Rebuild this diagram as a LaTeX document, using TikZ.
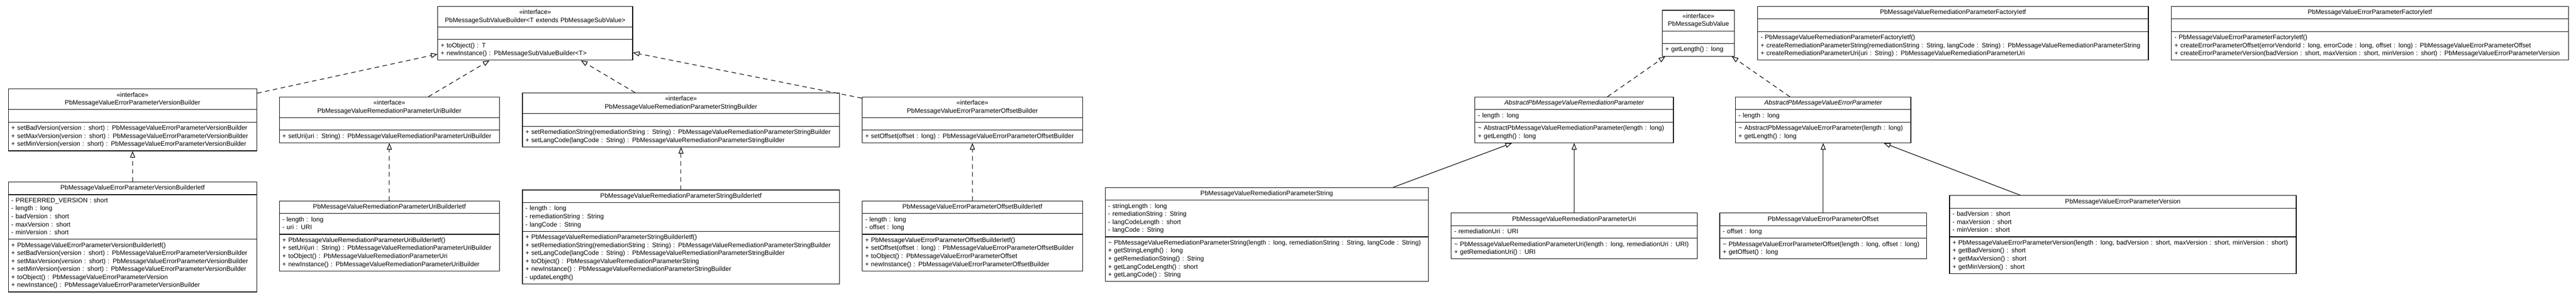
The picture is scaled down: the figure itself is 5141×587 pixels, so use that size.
\documentclass[tikz,border=0pt]{standalone}
\usepackage{fontspec}
\setmainfont{Liberation Sans}
\usetikzlibrary{arrows.meta,positioning,shapes.multipart}

\begin{document}
\begin{tikzpicture}[x=1pt,y=1pt,>={Triangle[open,width=10pt,length=13pt]},line width=1.2pt,
  cls/.style={rectangle split,rectangle split parts=3,draw,anchor=north west,
    inner xsep=6pt,inner ysep=4pt,text width=#1,
    font=\fontsize{12.8}{16}\selectfont},
  real/.style={->,dash pattern=on 9pt off 7pt}]
  \useasboundingbox (0,0) rectangle (5141,-587);

  \node[cls=484pt] (vb) at (16,-177)
    {\centering\strut «interface»\\PbMessageValueErrorParameterVersionBuilder\strut\par
     \nodepart{second}\strut
     \nodepart{third}\strut + setBadVersion(version : short) : PbMessageValueErrorParameterVersionBuilder\\
     + setMaxVersion(version : short) : PbMessageValueErrorParameterVersionBuilder\\
     + setMinVersion(version : short) : PbMessageValueErrorParameterVersionBuilder\strut};
  \node[cls=484pt] (vbi) [below=61pt of vb]
    {\centering\strut PbMessageValueErrorParameterVersionBuilderIetf\strut\par
     \nodepart{second}\strut - PREFERRED\_VERSION : short\\- length : long\\- badVersion : short\\
     - maxVersion : short\\- minVersion : short\strut
     \nodepart{third}\strut + PbMessageValueErrorParameterVersionBuilderIetf()\\
     + setBadVersion(version : short) : PbMessageValueErrorParameterVersionBuilder\\
     + setMaxVersion(version : short) : PbMessageValueErrorParameterVersionBuilder\\
     + setMinVersion(version : short) : PbMessageValueErrorParameterVersionBuilder\\
     + toObject() : PbMessageValueErrorParameterVersion\\
     + newInstance() : PbMessageValueErrorParameterVersionBuilder\strut};

  \node[cls=377pt] (svb) at (873,-12)
    {\centering\strut «interface»\\PbMessageSubValueBuilder<T extends PbMessageSubValue>\strut\par
     \nodepart{second}\strut
     \nodepart{third}\strut + toObject() : T\\+ newInstance() : PbMessageSubValueBuilder<T>\strut};

  \node[cls=427pt] (ub) at (557,-193)
    {\centering\strut «interface»\\PbMessageValueRemediationParameterUriBuilder\strut\par
     \nodepart{second}\strut
     \nodepart{third}\strut + setUri(uri : String) : PbMessageValueRemediationParameterUriBuilder\strut};
  \node[cls=427pt] (ubi) [below=115pt of ub]
    {\centering\strut PbMessageValueRemediationParameterUriBuilderIetf\strut\par
     \nodepart{second}\strut - length : long\\- uri : URI\strut
     \nodepart{third}\strut + PbMessageValueRemediationParameterUriBuilderIetf()\\
     + setUri(uri : String) : PbMessageValueRemediationParameterUriBuilder\\
     + toObject() : PbMessageValueRemediationParameterUri\\
     + newInstance() : PbMessageValueRemediationParameterUriBuilder\strut};

  \node[cls=621pt] (sb) at (1042,-185)
    {\centering\strut «interface»\\PbMessageValueRemediationParameterStringBuilder\strut\par
     \nodepart{second}\strut
     \nodepart{third}\strut + setRemediationString(remediationString : String) : PbMessageValueRemediationParameterStringBuilder\\
     + setLangCode(langCode : String) : PbMessageValueRemediationParameterStringBuilder\strut};
  \node[cls=621pt] (sbi) [below=85pt of sb]
    {\centering\strut PbMessageValueRemediationParameterStringBuilderIetf\strut\par
     \nodepart{second}\strut - length : long\\- remediationString : String\\- langCode : String\strut
     \nodepart{third}\strut + PbMessageValueRemediationParameterStringBuilderIetf()\\
     + setRemediationString(remediationString : String) : PbMessageValueRemediationParameterStringBuilder\\
     + setLangCode(langCode : String) : PbMessageValueRemediationParameterStringBuilder\\
     + toObject() : PbMessageValueRemediationParameterString\\
     + newInstance() : PbMessageValueRemediationParameterStringBuilder\\
     - updateLength()\strut};

  \node[cls=428pt] (ob) at (1720,-193)
    {\centering\strut «interface»\\PbMessageValueErrorParameterOffsetBuilder\strut\par
     \nodepart{second}\strut
     \nodepart{third}\strut + setOffset(offset : long) : PbMessageValueErrorParameterOffsetBuilder\strut};
  \node[cls=428pt] (obi) [below=115pt of ob]
    {\centering\strut PbMessageValueErrorParameterOffsetBuilderIetf\strut\par
     \nodepart{second}\strut - length : long\\- offset : long\strut
     \nodepart{third}\strut + PbMessageValueErrorParameterOffsetBuilderIetf()\\
     + setOffset(offset : long) : PbMessageValueErrorParameterOffsetBuilder\\
     + toObject() : PbMessageValueErrorParameterOffset\\
     + newInstance() : PbMessageValueErrorParameterOffsetBuilder\strut};

  \node[cls=633pt] (ps) at (2205,-374)
    {\centering\strut PbMessageValueRemediationParameterString\strut\par
     \nodepart{second}\strut - stringLength : long\\- remediationString : String\\
     - langCodeLength : short\\- langCode : String\strut
     \nodepart{third}\strut \textasciitilde{} PbMessageValueRemediationParameterString(length : long, remediationString : String, langCode : String)\\
     + getStringLength() : long\\+ getRemediationString() : String\\
     + getLangCodeLength() : short\\+ getLangCode() : String\strut};

  \node[cls=132pt] (sv) at (3317,-20)
    {\centering\strut «interface»\\PbMessageSubValue\strut\par
     \nodepart{second}\strut
     \nodepart{third}\strut + getLength() : long\strut};

  \node[cls=384pt] (ar) at (2943,-193)
    {\centering\strut\itshape AbstractPbMessageValueRemediationParameter\strut\par
     \nodepart{second}\strut - length : long\strut
     \nodepart{third}\strut \textasciitilde{} AbstractPbMessageValueRemediationParameter(length : long)\\
     + getLength() : long\strut};
  \node[cls=479pt] (pu) [below=139pt of ar]
    {\centering\strut PbMessageValueRemediationParameterUri\strut\par
     \nodepart{second}\strut - remediationUri : URI\strut
     \nodepart{third}\strut \textasciitilde{} PbMessageValueRemediationParameterUri(length : long, remediationUri : URI)\\
     + getRemediationUri() : URI\strut};

  \node[cls=338pt] (ae) at (3463,-193)
    {\centering\strut\itshape AbstractPbMessageValueErrorParameter\strut\par
     \nodepart{second}\strut - length : long\strut
     \nodepart{third}\strut \textasciitilde{} AbstractPbMessageValueErrorParameter(length : long)\\
     + getLength() : long\strut};
  \node[cls=401pt] (po) [below=139pt of ae]
    {\centering\strut PbMessageValueErrorParameterOffset\strut\par
     \nodepart{second}\strut - offset : long\strut
     \nodepart{third}\strut \textasciitilde{} PbMessageValueErrorParameterOffset(length : long, offset : long)\\
     + getOffset() : long\strut};

  \node[cls=680pt] (pv) at (3890,-390)
    {\centering\strut PbMessageValueErrorParameterVersion\strut\par
     \nodepart{second}\strut - badVersion : short\\- maxVersion : short\\- minVersion : short\strut
     \nodepart{third}\strut + PbMessageValueErrorParameterVersion(length : long, badVersion : short, maxVersion : short, minVersion : short)\\
     + getBadVersion() : short\\+ getMaxVersion() : short\\+ getMinVersion() : short\strut};

  \node[cls=768pt] (rf) at (3507,-12)
    {\centering\strut PbMessageValueRemediationParameterFactoryIetf\strut\par
     \nodepart{second}\strut
     \nodepart{third}\strut - PbMessageValueRemediationParameterFactoryIetf()\\
     + createRemediationParameterString(remediationString : String, langCode : String) : PbMessageValueRemediationParameterString\\
     + createRemediationParameterUri(uri : String) : PbMessageValueRemediationParameterUri\strut};

  \node[cls=780pt] (ef) at (4333,-12)
    {\centering\strut PbMessageValueErrorParameterFactoryIetf\strut\par
     \nodepart{second}\strut
     \nodepart{third}\strut - PbMessageValueErrorParameterFactoryIetf()\\
     + createErrorParameterOffset(errorVendorId : long, errorCode : long, offset : long) : PbMessageValueErrorParameterOffset\\
     + createErrorParameterVersion(badVersion : short, maxVersion : short, minVersion : short) : PbMessageValueErrorParameterVersion\strut};

  \path[real] (vb)  edge (svb)
              (ub)  edge (svb)
              (sb)  edge (svb)
              (ob)  edge (svb)
              (vbi) edge (vb)
              (ubi) edge (ub)
              (sbi) edge (sb)
              (obi) edge (ob)
              (ar)  edge (sv)
              (ae)  edge (sv);

  \path[->] (ps) edge (ar)
            (pu) edge (ar)
            (po) edge (ae)
            (pv) edge (ae);

\end{tikzpicture}
\end{document}
